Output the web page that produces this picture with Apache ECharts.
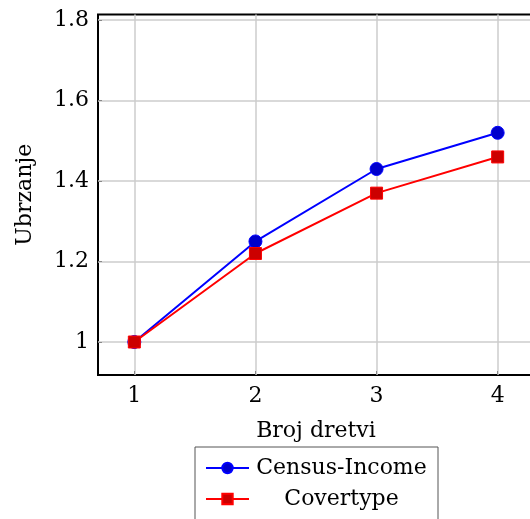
<!DOCTYPE html>
<html>
<head>
<meta charset="utf-8">
<script src="https://cdn.jsdelivr.net/npm/echarts@6/dist/echarts.min.js"></script>
<style>
html,body{margin:0;padding:0;background:#fff;overflow:hidden;}
#chart{width:540px;height:560px;}
</style>
</head>
<body>
<div id="chart"></div>
<script>
var threads=[1, 2, 3, 4];
var censusIncome=[1, 1.25, 1.43, 1.52];
var covertype=[1, 1.22, 1.37, 1.46];
var yTicks=[1, 1.2, 1.4, 1.6, 1.8];

function pairs(xs, ys){
	var out=[];
	for(var i=0;i<xs.length;i++){ out.push([xs[i], ys[i]]); }
	return out;
}

var font='DejaVu Serif';
var fs=22;

var option={
	animation:false,
	textStyle:{fontFamily:font},
	grid:{
		left:98, top:14.5, width:436, height:360.5,
		show:true, borderColor:'#000', borderWidth:2, backgroundColor:'transparent'
	},
	legend:{
		orient:'vertical',
		left:195, top:447,
		padding:[10,9,12,10],
		itemGap:9,
		itemWidth:43, itemHeight:13,
		borderColor:'#555', borderWidth:1,
		textStyle:{
			color:'#000', fontSize:fs, fontFamily:font,
			rich:{n:{width:175, lineHeight:22, align:'center', fontSize:fs, fontFamily:font, color:'#000'}}
		},
		formatter:function(name){ return '{n|'+name+'}'; },
		data:['Census-Income','Covertype']
	},
	xAxis:{
		type:'value', min:0.7, max:4.3,
		name:'Broj dretvi', nameLocation:'middle', nameGap:45,
		nameTextStyle:{color:'#000', fontSize:fs, fontFamily:font},
		axisLine:{show:false},
		axisTick:{show:true, inside:true, length:4, lineStyle:{color:'#888'}, customValues:threads},
		axisLabel:{color:'#000', fontSize:fs, fontFamily:font, margin:10, customValues:threads},
		splitLine:{show:true, lineStyle:{color:'#cccccc', width:1.5}}
	},
	yAxis:{
		type:'value', min:0.918, max:1.814,
		name:'Ubrzanje', nameLocation:'middle', nameGap:62, nameRotate:90,
		nameTextStyle:{color:'#000', fontSize:fs, fontFamily:font},
		axisLine:{show:false},
		axisTick:{show:true, inside:true, length:4, lineStyle:{color:'#888'}, customValues:yTicks},
		axisLabel:{color:'#000', fontSize:fs, fontFamily:font, margin:9,
			customValues:yTicks,
			formatter:function(v){ return Math.abs(v-1)<1e-9 ? '1' : v.toFixed(1); }},
		splitLine:{show:true, lineStyle:{color:'#cccccc', width:1.5}}
	},
	series:[
		{
			name:'Census-Income', type:'line',
			data:pairs(threads, censusIncome),
			symbol:'circle', symbolSize:13,
			lineStyle:{color:'#0000ff', width:2},
			itemStyle:{color:'#0000cc', borderColor:'#0000ff', borderWidth:1},
			z:3
		},
		{
			name:'Covertype', type:'line',
			data:pairs(threads, covertype),
			symbol:'rect', symbolSize:12,
			lineStyle:{color:'#ff0000', width:2},
			itemStyle:{color:'#cc0000', borderColor:'#ff0000', borderWidth:1},
			z:4
		}
	]
};

var myChart=echarts.init(document.getElementById('chart'));
myChart.setOption(option);
</script>
</body>
</html>
